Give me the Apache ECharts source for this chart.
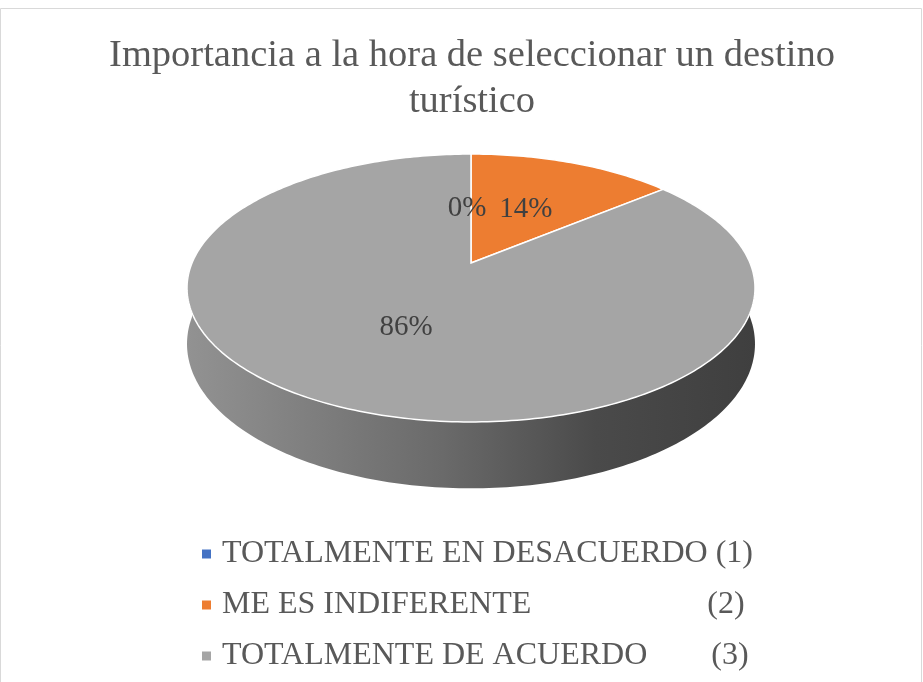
<!DOCTYPE html>
<html>
<head>
<meta charset="utf-8">
<script src="https://cdn.jsdelivr.net/npm/echarts@6/dist/echarts.min.js"></script>
<style>
html, body { margin: 0; padding: 0; background: #fff; }
#main { width: 923px; height: 682px; }
</style>
</head>
<body>
<div id="main"></div>
<script>
// categorias y porcentajes
var categorias = [
    'TOTALMENTE EN DESACUERDO (1)',
    'ME ES INDIFERENTE                      (2)',
    'TOTALMENTE DE ACUERDO        (3)'
];
var porcentajes = [0, 14, 86];
var colores = ['#4472c4', '#ed7d31', '#a5a5a5'];

var myChart = echarts.init(document.getElementById('main'));

// proyeccion en perspectiva del disco (estilo pastel 3D de Excel)
var cx = 471, cy = 263, A = 279, B = 129.3, k = 0.1866, grosor = 54;
function proj(ang, r, drop) {
    var t = ang * Math.PI / 180;
    var X = r * Math.sin(t), Z = r * Math.cos(t);
    var s = 1 / (1 + k * Z);
    return [cx + A * X * s, cy - B * Z * s + (drop || 0) * s];
}
function arco(a0, a1, drop) {
    var pts = [];
    var n = Math.max(2, Math.ceil((a1 - a0) / 1));
    for (var i = 0; i <= n; i++) {
        pts.push(proj(a0 + (a1 - a0) * i / n, 1, drop));
    }
    return pts;
}

var total = porcentajes.reduce(function (a, b) { return a + b; }, 0);

function renderItem(params, api) {
    var idx = params.dataIndex;
    var acum = 0;
    for (var i = 0; i < idx; i++) acum += porcentajes[i];
    var a0 = acum / total * 360;
    var a1 = (acum + api.value(0)) / total * 360;
    var hijos = [];

    if (a1 > a0) {
        // pared frontal
        var w0 = Math.max(a0, 90), w1 = Math.min(a1, 270);
        if (w1 > w0) {
            var sup = arco(w0, w1, 0);
            var inf = arco(w0, w1, grosor).reverse();
            hijos.push({
                type: 'polygon',
                z2: 1,
                shape: { points: sup.concat(inf) },
                style: {
                    fill: new echarts.graphic.LinearGradient(0, 0, 1, 0, [
                        { offset: 0, color: '#929292' },
                        { offset: 0.45, color: '#6a6a6a' },
                        { offset: 0.72, color: '#4a4a4a' },
                        { offset: 1, color: '#3f3f3f' }
                    ]),
                    stroke: null
                }
            });
        }
        // cara superior
        var pts = [proj(0, 0, 0)].concat(arco(a0, a1, 0));
        hijos.push({
            type: 'polygon',
            z2: 2,
            shape: { points: pts },
            style: { fill: colores[idx], stroke: '#ffffff', lineWidth: 1.5 }
        });
    }

    var mid = (a0 + a1) / 2;
    var p = proj(mid, 0.5, 0);
    if (idx === 0) p[0] -= 4, p[1] += 5;
    hijos.push({
        type: 'text',
        z2: 3,
        style: {
            text: Math.round(api.value(0)) + '%',
            x: p[0], y: p[1],
            align: 'center', verticalAlign: 'middle',
            fill: '#404040',
            font: '29px "Liberation Serif"'
        }
    });
    return { type: 'group', children: hijos };
}

var option = {
    animation: false,
    color: colores,
    title: {
        text: 'Importancia a la hora de seleccionar un destino\nturístico',
        left: 467,
        textAlign: 'center',
        top: 28,
        textStyle: {
            fontFamily: 'Liberation Serif',
            fontSize: 38.5,
            fontWeight: 'normal',
            color: '#595959',
            lineHeight: 46
        }
    },
    legend: {
        orient: 'vertical',
        left: 197,
        top: 533,
        itemGap: 19,
        itemWidth: 9,
        itemHeight: 9,
        icon: 'rect',
        selectedMode: false,
        data: categorias,
        textStyle: {
            fontFamily: 'Liberation Serif',
            fontSize: 32,
            color: '#595959',
            padding: [0, 0, 0, 6]
        }
    },
    graphic: [{
        type: 'rect',
        shape: { x: 0.5, y: 8.5, width: 921, height: 700 },
        style: { fill: null, stroke: '#d9d9d9', lineWidth: 1 },
        silent: true
    }],
    series: [{
        type: 'custom',
        name: 'pastel3d',
        coordinateSystem: 'none',
        renderItem: renderItem,
        data: porcentajes.map(function (v) { return [v]; })
    }, {
        // serie auxiliar solo para la leyenda
        type: 'pie',
        radius: [0, 0],
        center: [-50, -50],
        silent: true,
        label: { show: false },
        labelLine: { show: false },
        data: categorias.map(function (c, i) { return { name: c, value: porcentajes[i] }; })
    }]
};

myChart.setOption(option);
window.addEventListener('resize', function () { myChart.resize(); });
</script>
</body>
</html>
